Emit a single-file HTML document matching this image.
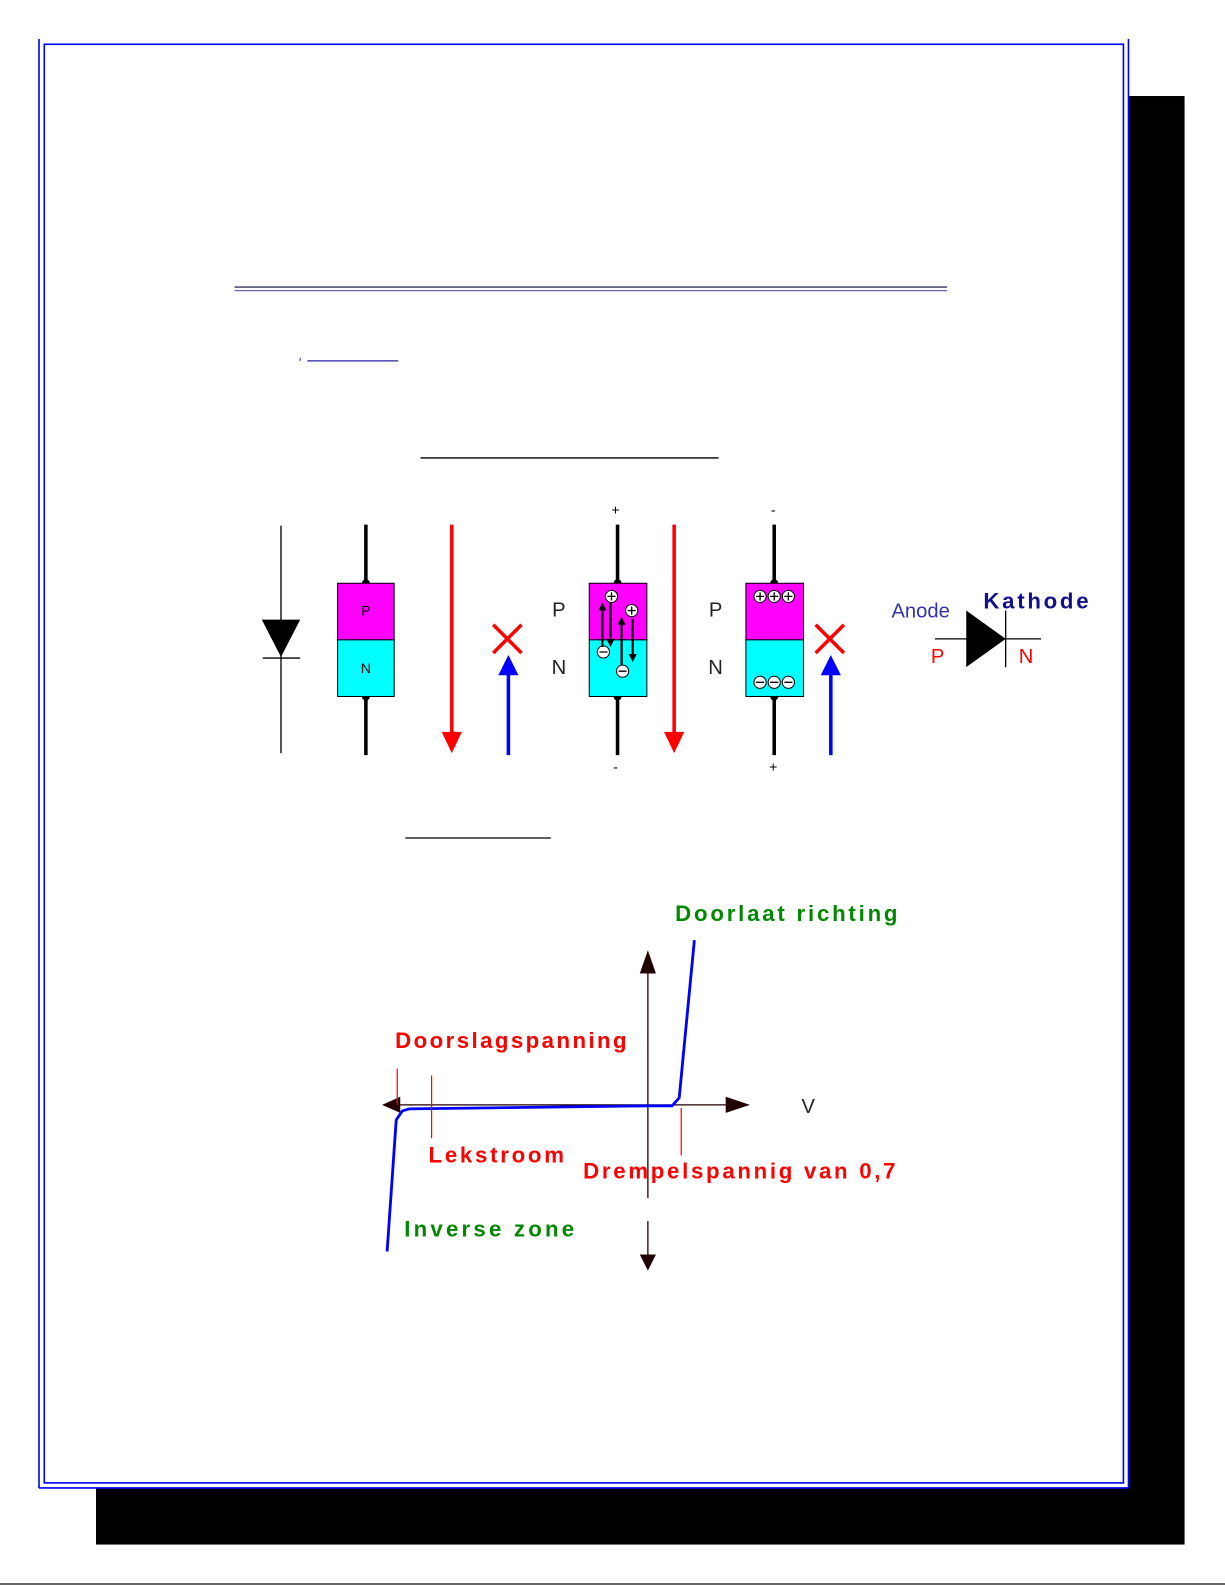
<!DOCTYPE html>
<html><head><meta charset="utf-8"><style>
html,body{margin:0;padding:0;background:#fff;}
svg{display:block;}
text{font-family:"Liberation Sans",sans-serif;}
</style></head><body>
<svg width="1225" height="1585" viewBox="0 0 1212 1568" preserveAspectRatio="none" xmlns="http://www.w3.org/2000/svg">
<rect x="0" y="0" width="1212" height="1568" fill="#fff"/>
<rect x="95" y="95" width="1077" height="1433" fill="#000"/>
<rect x="38.6" y="38.6" width="1078" height="1433.4" fill="#fff" stroke="none"/>
<line x1="38.6" y1="38.6" x2="38.6" y2="1472" stroke="#00f" stroke-width="1.6"/>
<line x1="1116.5" y1="38.6" x2="1116.5" y2="1472" stroke="#00f" stroke-width="1.6"/>
<line x1="38.6" y1="1472" x2="1116.5" y2="1472" stroke="#00f" stroke-width="1.6"/>
<rect x="43.8" y="43.8" width="1067.7" height="1423.2" fill="none" stroke="#00f" stroke-width="1.6"/>
<line x1="0" y1="1567" x2="1212" y2="1567" stroke="#333" stroke-width="1.5"/>

<line x1="232" y1="284" x2="937" y2="284" stroke="#336" stroke-width="1.3"/>
<line x1="232" y1="287.5" x2="937" y2="287.5" stroke="#66a" stroke-width="1.2"/>
<line x1="304" y1="357" x2="394" y2="357" stroke="#22a" stroke-width="1.2"/>
<line x1="297" y1="354" x2="297" y2="357" stroke="#22a" stroke-width="1"/>
<line x1="416" y1="453" x2="711" y2="453" stroke="#000" stroke-width="1.3"/>
<line x1="401" y1="829" x2="545" y2="829" stroke="#000" stroke-width="1.3"/>

<line x1="278" y1="520" x2="278" y2="745" stroke="#000" stroke-width="1.3"/>
<polygon points="259,613 297,613 278,650" fill="#000"/>
<line x1="260" y1="651" x2="297" y2="651" stroke="#000" stroke-width="1.3"/>

<line x1="362" y1="519" x2="362" y2="747" stroke="#000" stroke-width="3.5"/>
<circle cx="362" cy="577" r="4" fill="#000"/><circle cx="362" cy="689" r="4" fill="#000"/>
<rect x="334" y="577" width="56" height="56" fill="#f0f" stroke="#000"/>
<rect x="334" y="633" width="56" height="56" fill="#0ff" stroke="#000"/>
<text x="362" y="609" font-size="14" text-anchor="middle">P</text>
<text x="362" y="666" font-size="14" text-anchor="middle">N</text>

<line x1="447" y1="519" x2="447" y2="726" stroke="#f00" stroke-width="3.5"/>
<polygon points="437,724 457,724 447,745" fill="#f00"/>
<path d="M488,618 L516,646 M516,618 L488,646" stroke="#f00" stroke-width="3.5"/>
<line x1="503" y1="666" x2="503" y2="747" stroke="#00f" stroke-width="3.5"/>
<polygon points="493,668 513,668 503,648" fill="#00f"/>

<text x="609" y="509" font-size="14" text-anchor="middle">+</text>
<line x1="611" y1="519" x2="611" y2="747" stroke="#000" stroke-width="3.5"/>
<circle cx="611" cy="577" r="4" fill="#000"/><circle cx="611" cy="689" r="4" fill="#000"/>
<rect x="583" y="577" width="57" height="56" fill="#f0f" stroke="#000"/>
<rect x="583" y="633" width="57" height="56" fill="#0ff" stroke="#000"/>
<text x="609" y="763" font-size="14" text-anchor="middle">-</text>
<text x="553" y="610" font-size="20" text-anchor="middle" fill="#222">P</text>
<text x="553" y="667" font-size="20" text-anchor="middle" fill="#222">N</text>
<g stroke="#000" stroke-width="1" fill="#fff">
<circle cx="605" cy="590" r="6"/><circle cx="625" cy="604" r="6"/>
<circle cx="597" cy="645" r="6"/><circle cx="616" cy="664" r="6"/>
</g>
<g stroke="#000" stroke-width="1.3">
<path d="M601,590 h8 M605,586 v8 M621,604 h8 M625,600 v8 M593,645 h8 M612,664 h8"/>
</g>
<g stroke="#000" stroke-width="2.2" fill="#000">
<line x1="596" y1="640" x2="596" y2="604"/><polygon points="592,604 600,604 596,596" stroke="none"/>
<line x1="604" y1="596" x2="604" y2="632"/><polygon points="600,632 608,632 604,640" stroke="none"/>
<line x1="615" y1="658" x2="615" y2="618"/><polygon points="611,618 619,618 615,610" stroke="none"/>
<line x1="626" y1="612" x2="626" y2="647"/><polygon points="622,647 630,647 626,655" stroke="none"/>
</g>

<line x1="667" y1="519" x2="667" y2="726" stroke="#f00" stroke-width="3.5"/>
<polygon points="657,724 677,724 667,745" fill="#f00"/>

<text x="765" y="509" font-size="14" text-anchor="middle">-</text>
<line x1="766" y1="519" x2="766" y2="747" stroke="#000" stroke-width="3.5"/>
<circle cx="766" cy="577" r="4" fill="#000"/><circle cx="766" cy="689" r="4" fill="#000"/>
<rect x="738" y="577" width="57" height="56" fill="#f0f" stroke="#000"/>
<rect x="738" y="633" width="57" height="56" fill="#0ff" stroke="#000"/>
<text x="765" y="763" font-size="14" text-anchor="middle">+</text>
<text x="708" y="610" font-size="20" text-anchor="middle" fill="#222">P</text>
<text x="708" y="667" font-size="20" text-anchor="middle" fill="#222">N</text>
<g stroke="#000" stroke-width="1" fill="#fff">
<circle cx="752" cy="590" r="6"/><circle cx="766" cy="590" r="6"/><circle cx="780" cy="590" r="6"/>
<circle cx="752" cy="675" r="6"/><circle cx="766" cy="675" r="6"/><circle cx="780" cy="675" r="6"/>
</g>
<g stroke="#000" stroke-width="1.3">
<path d="M748,590 h8 M752,586 v8 M762,590 h8 M766,586 v8 M776,590 h8 M780,586 v8 M748,675 h8 M762,675 h8 M776,675 h8"/>
</g>
<path d="M807,618 L835,646 M835,618 L807,646" stroke="#f00" stroke-width="3.5"/>
<line x1="822" y1="666" x2="822" y2="747" stroke="#00f" stroke-width="3.5"/>
<polygon points="812,668 832,668 822,648" fill="#00f"/>

<text x="882" y="611" font-size="20" fill="#33a">Anode</text>
<text x="973" y="602" font-size="22" font-weight="bold" fill="#118" textLength="104">Kathode</text>
<line x1="925" y1="632" x2="1030" y2="632" stroke="#000" stroke-width="1.3"/>
<polygon points="956,604 956,660 995,632" fill="#000"/>
<line x1="995" y1="604" x2="995" y2="660" stroke="#000" stroke-width="1.3"/>
<text x="921" y="656" font-size="20" fill="#f00">P</text>
<text x="1008" y="656" font-size="20" fill="#f00">N</text>

<line x1="390" y1="1093" x2="728" y2="1093" stroke="#200" stroke-width="1.3"/>
<polygon points="378,1093 396,1085 396,1101" fill="#200"/>
<polygon points="742,1093 718,1085 718,1101" fill="#200"/>
<line x1="641" y1="950" x2="641" y2="1185" stroke="#200" stroke-width="1.3"/>
<line x1="641" y1="1208" x2="641" y2="1245" stroke="#200" stroke-width="1.3"/>
<polygon points="641,940 633,963 649,963" fill="#200"/>
<polygon points="641,1257 633,1241 649,1241" fill="#200"/>
<polyline points="383,1238 392,1108 398,1099 405,1097 641,1094 665,1094 672,1086 687,930" fill="none" stroke="#00f" stroke-width="2.8"/>
<line x1="393" y1="1057" x2="393" y2="1093" stroke="#f00" stroke-width="1.2"/>
<line x1="427" y1="1064" x2="427" y2="1126" stroke="#f00" stroke-width="1.2"/>
<line x1="674" y1="1096" x2="674" y2="1143" stroke="#f00" stroke-width="1.2"/>
<g font-size="22" font-weight="bold">
<text x="668" y="911" fill="#080" textLength="220">Doorlaat richting</text>
<text x="391" y="1037" fill="#f00" textLength="229">Doorslagspanning</text>
<text x="424" y="1150" fill="#f00" textLength="134">Lekstroom</text>
<text x="577" y="1166" fill="#f00" textLength="309">Drempelspannig van 0,7</text>
<text x="400" y="1223" fill="#080" textLength="168">Inverse zone</text>
</g>
<text x="793" y="1101" font-size="20" fill="#222">V</text>
</svg>
</body></html>
